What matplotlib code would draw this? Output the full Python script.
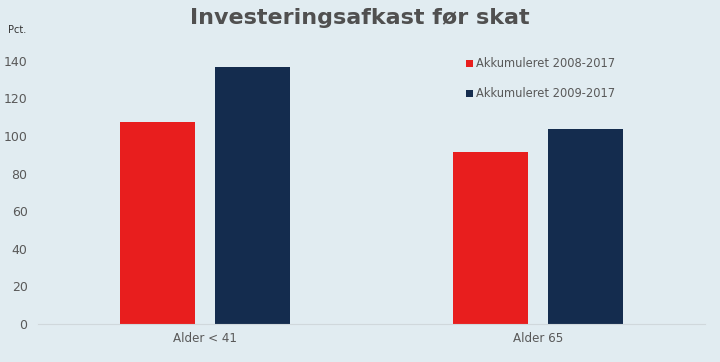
import numpy as np
import matplotlib.pyplot as plt

# Data
kategorier = ["Alder < 41", "Alder 65"]
akk_2008 = [107.5, 91.3]
akk_2009 = [136.8, 103.8]
serier = ["Akkumuleret 2008-2017", "Akkumuleret 2009-2017"]

bg = "#e1ecf1"
rod = "#e81e1e"
navy = "#142c4e"
grey = "#595959"

fig = plt.figure(figsize=(7.2, 3.62), dpi=100)
fig.patch.set_facecolor(bg)
ax = fig.add_axes([38/720, 1-324/362, 667/720, (324-42)/362])
ax.set_facecolor(bg)

x = np.arange(len(kategorier))
w = 0.225
ax.bar(x - 0.1425, akk_2008, width=w, color=rod, label=serier[0])
ax.bar(x + 0.1425, akk_2009, width=w, color=navy, label=serier[1])

ax.set_xlim(-0.5, 1.5)
ax.set_ylim(0, 150)
ax.set_yticks(np.arange(0, 141, 20))
ax.set_xticks(x)
ax.set_xticklabels(kategorier)
ax.tick_params(axis="both", length=0, labelsize=9, labelcolor=grey)
ax.tick_params(axis="x", labelsize=8.6, pad=6)
ax.tick_params(axis="y", pad=7.5)
for s in ["top", "right", "left"]:
    ax.spines[s].set_visible(False)
ax.spines["bottom"].set_color("#d0d8dc")
ax.spines["bottom"].set_linewidth(0.8)

fig.text(0.5, 1-18/362, "Investeringsafkast før skat", ha="center", va="center",
         fontsize=16, fontweight="bold", color="#505050")
fig.text(8/720, 1-30/362, "Pct.", ha="left", va="center", fontsize=7, color="#333333")

leg = ax.legend(loc="upper left", bbox_to_anchor=(418/667, 1.0 - 5/282), frameon=False,
                fontsize=8.3, handlelength=0.6, handleheight=0.6, handletextpad=0.25,
                labelspacing=1.48, labelcolor=grey)

fig.savefig("out.png", dpi=100, facecolor=bg)
